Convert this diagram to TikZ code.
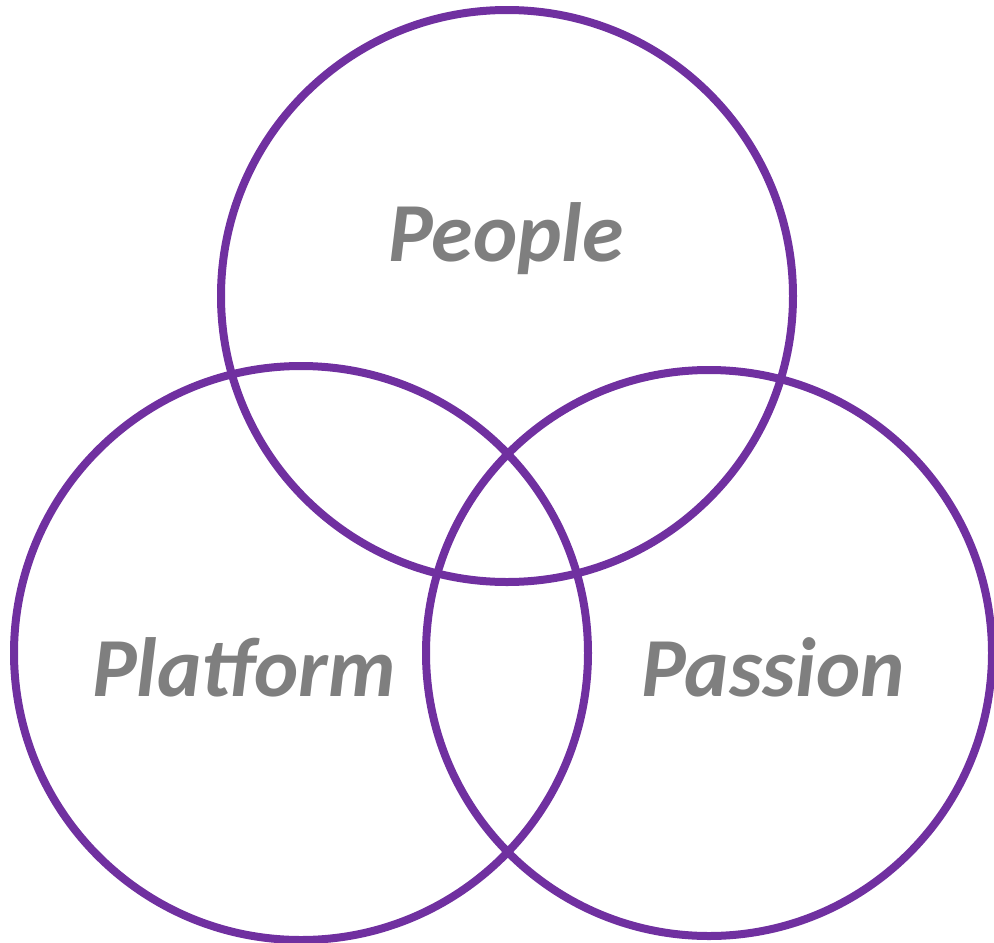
\documentclass[tikz,border=0pt]{standalone}
\usepackage{fontspec}
\setmainfont{Carlito}
\definecolor{vpurple}{HTML}{7030A0}
\definecolor{vgray}{HTML}{7F7F7F}
\begin{document}
\begin{tikzpicture}[x=1pt,y=-1pt,
  ring/.style={draw=vpurple,line width=8pt,circle,minimum size=#1,inner sep=0pt},
  lbl/.style={text=vgray,font=\fontsize{84}{84}\selectfont\bfseries\itshape,inner sep=0pt,anchor=base}]
\useasboundingbox (0,0) rectangle (994,943);
\node[ring=572pt] (top) at (507,296) {};
\node[ring=574pt] (left) at (301,653) {};
\node[ring=566pt] (right) at (709,653) {};
\node[lbl] (people) at (506,261) {People};
\node[lbl] (platform) at (244,696) {Platform};
\node[lbl] (passion) at (773,696) {Passion};
\end{tikzpicture}
\end{document}
